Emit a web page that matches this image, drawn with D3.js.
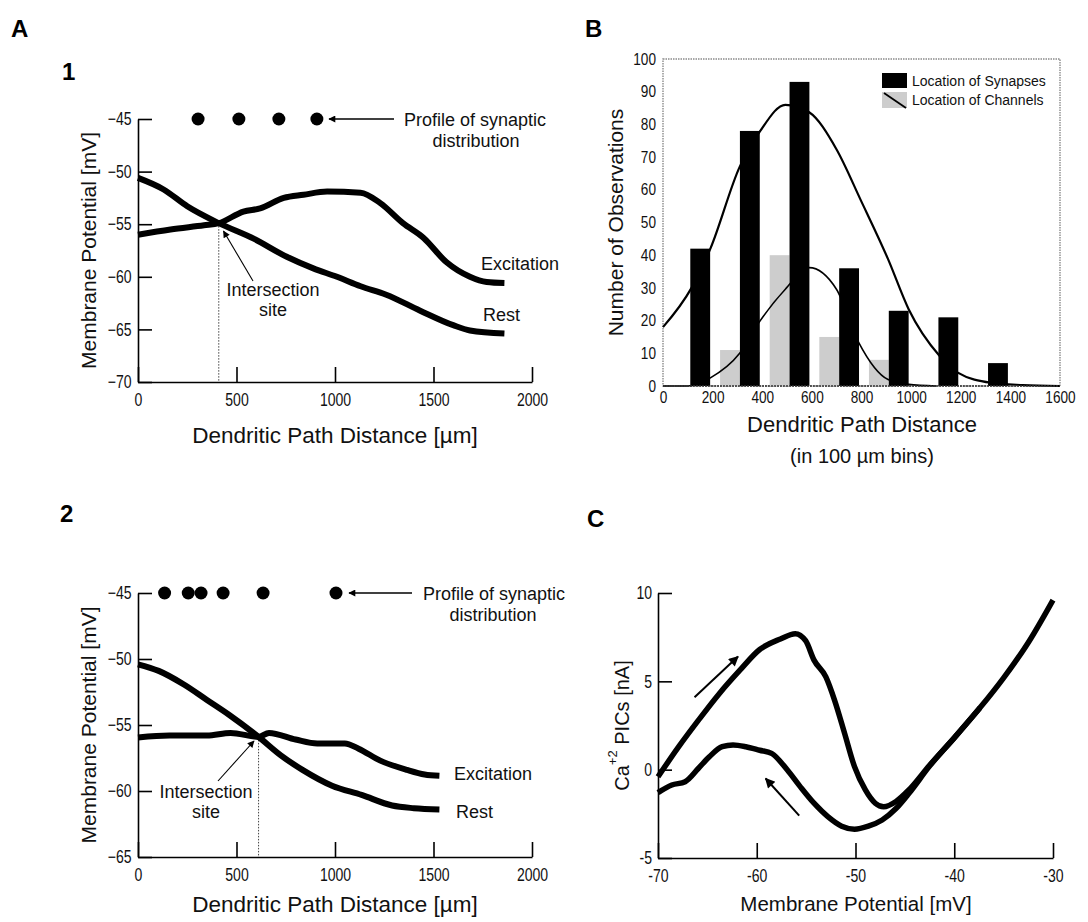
<!DOCTYPE html>
<html>
<head>
<meta charset="utf-8">
<script src="https://cdn.jsdelivr.net/npm/d3@7"></script>
<style>
  body { margin: 0; background: #fff; }
  svg { display: block; }
</style>
</head>
<body>
<svg id="fig" width="1088" height="922"></svg>
<script>
// ---------- Data ----------
// Panel A1: membrane potential along the dendrite [distance µm, mV]
const a1Rest = [[0,-50.6],[130,-51.7],[250,-53.3],[410,-54.9],[590,-56.4],[755,-58.1],[890,-59.2],[1010,-60.0],[1130,-60.9],[1260,-61.7],[1430,-63.2],[1600,-64.6],[1685,-65.1],[1860,-65.4]];
const a1Excitation = [[0,-56.0],[165,-55.5],[335,-55.1],[410,-54.9],[535,-53.8],[620,-53.5],[740,-52.5],[840,-52.2],[960,-51.9],[1130,-52.0],[1230,-53.0],[1345,-54.9],[1450,-56.3],[1565,-58.6],[1685,-60.0],[1770,-60.5],[1860,-60.6]];
const a1Synapses = [305, 512, 715, 908];
const a1Intersection = [410, -54.9];

// Panel A2
const a2Rest = [[0,-50.4],[105,-50.9],[235,-51.95],[350,-53.1],[460,-54.2],[612,-55.9],[725,-57.3],[835,-58.4],[985,-59.6],[1135,-60.3],[1290,-61.1],[1400,-61.3],[1530,-61.4]];
const a2Excitation = [[0,-55.95],[160,-55.8],[350,-55.8],[470,-55.6],[612,-55.9],[665,-55.6],[800,-56.1],[910,-56.4],[1050,-56.4],[1120,-56.8],[1230,-57.7],[1365,-58.4],[1455,-58.75],[1530,-58.85]];
const a2Synapses = [135, 255, 320, 432, 635, 1005];
const a2Intersection = [612, -55.9];

const aDistanceTicks = [0, 500, 1000, 1500, 2000];
const a1PotentialTicks = [-70, -65, -60, -55, -50, -45];
const a2PotentialTicks = [-65, -60, -55, -50, -45];

// Panel B: histogram of observations in 100 µm bins
const bSynapseBins = [150, 350, 550, 750, 950, 1150, 1350];
const bSynapseCounts = [42, 78, 93, 36, 23, 21, 7];
const bChannelBins = [270, 470, 670, 870];
const bChannelCounts = [11, 40, 15, 8];
const bBinWidth = 80;
const bSynapseFit = [[0,18],[115,30],[191,42],[309,67],[392,78],[493,86],[589,83.7],[699,72.4],[796,57],[907,38.8],[990,23.5],[1115,9.2],[1188,4.1],[1322,1],[1450,0.3],[1600,0]];
const bChannelFit = [[0,0],[100,0],[191,2.5],[309,10],[392,20],[493,29.6],[589,36.2],[699,29.6],[789,13.3],[907,2],[990,0.5],[1100,0]];
const bDistanceTicks = [0, 200, 400, 600, 800, 1000, 1200, 1400, 1600];
const bCountTicks = [0, 10, 20, 30, 40, 50, 60, 70, 80, 90, 100];
const bLegend = ["Location of Synapses", "Location of Channels"];

// Panel C: Ca2+ persistent inward currents vs membrane potential [mV, nA]
const cUpSweep = [[-70,-0.4],[-67.9,1.3],[-65.9,2.8],[-63.8,4.3],[-61.75,5.6],[-59.7,6.8],[-57.6,7.4],[-56.1,7.7],[-55.05,7.3],[-54.2,6.2],[-53.0,5.25],[-52.1,3.9],[-51.1,2.05],[-50.1,0.17],[-49.0,-1.15],[-48.0,-1.9],[-47.15,-2.1],[-45.9,-1.8],[-44.6,-1.15],[-42.5,0.25],[-40,1.8],[-37.4,3.5],[-35,5.2],[-32.5,7.2],[-30,9.6]];
const cDownSweep = [[-70,-1.3],[-68.6,-0.87],[-67.25,-0.68],[-65.9,0.08],[-64.8,0.73],[-63.5,1.3],[-62.4,1.4],[-61.1,1.3],[-59.7,1.1],[-58.5,0.92],[-56.9,-0.02],[-55.6,-0.96],[-54.2,-1.9],[-52.8,-2.66],[-51.4,-3.2],[-50.1,-3.37],[-48.7,-3.2],[-47.3,-2.85],[-45.9,-2.2],[-44.6,-1.35],[-42.5,0.2],[-40,1.8],[-37.4,3.5]];
const cSweepArrows = [[[-66.3,4.1],[-61.9,6.4]], [[-55.7,-2.6],[-59.1,-0.5]]];
const cPotentialTicks = [-70, -60, -50, -40, -30];
const cCurrentTicks = [-5, 0, 5, 10];

// ---------- Drawing ----------
const FONT = '"Liberation Sans", Arial, Helvetica, sans-serif';
const INK = "#111";
const svg = d3.select("#fig").attr("font-family", FONT);
svg.append("rect").attr("width", 1088).attr("height", 922).attr("fill", "#fff");

const defs = svg.append("defs");
function arrowMarker(id, w, h) {
  defs.append("marker").attr("id", id)
    .attr("viewBox", "0 0 10 10").attr("refX", 9).attr("refY", 5)
    .attr("markerUnits", "userSpaceOnUse")
    .attr("markerWidth", w).attr("markerHeight", h)
    .attr("orient", "auto")
    .append("path").attr("d", "M0,0L10,5L0,10z").attr("fill", "#000");
}
arrowMarker("headSmall", 9, 7);
arrowMarker("headLarge", 13, 10);

// narrow the tick numerals horizontally
function squeeze(sel, f) {
  sel.each(function () {
    const w = this.getComputedTextLength();
    this.setAttribute("textLength", w * f);
    this.setAttribute("lengthAdjust", "spacingAndGlyphs");
  });
}

function text(g, x, y, str, size, anchor) {
  return g.append("text").attr("x", x).attr("y", y).attr("font-size", size)
    .attr("text-anchor", anchor || "start").attr("fill", INK).text(str);
}

function styleAxis(ax, size, squeezeF) {
  ax.attr("font-family", FONT);
  ax.selectAll(".domain").attr("stroke", "#000").attr("stroke-width", 1.6);
  ax.selectAll(".tick line").attr("stroke", "#000").attr("stroke-width", 1.6);
  ax.selectAll(".tick text").attr("font-size", size).attr("fill", INK);
  if (squeezeF) squeeze(ax.selectAll(".tick text"), squeezeF);
}

const minusFmt = d3.format("d");

// Panels A1 / A2
function panelA(cfg) {
  const g = svg.append("g");
  const x = d3.scaleLinear([0, 2000], [138, 532]);
  const y = d3.scaleLinear(cfg.yDomain, cfg.yRange);

  const ax = g.append("g").attr("transform", `translate(0,${cfg.yRange[0]})`)
    .call(d3.axisBottom(x).tickValues(aDistanceTicks).tickSize(-15).tickSizeOuter(0).tickPadding(11).tickFormat(minusFmt));
  styleAxis(ax, 18, 0.78);
  const ay = g.append("g").attr("transform", `translate(${x(0)},0)`)
    .call(d3.axisLeft(y).tickValues(cfg.yTicks).tickSize(-14).tickSizeOuter(0).tickPadding(6.5).tickFormat(minusFmt));
  styleAxis(ay, 18, 0.78);

  // dotted drop line from the intersection
  g.append("line")
    .attr("x1", x(cfg.inter[0])).attr("x2", x(cfg.inter[0]))
    .attr("y1", y(cfg.inter[1])).attr("y2", cfg.yRange[0])
    .attr("stroke", "#444").attr("stroke-width", 1).attr("stroke-dasharray", "1.5,1.5");

  const line = d3.line().x(d => x(d[0])).y(d => y(d[1])).curve(d3.curveMonotoneX);
  [cfg.rest, cfg.exc].forEach(s => g.append("path").attr("d", line(s))
    .attr("fill", "none").attr("stroke", "#000").attr("stroke-width", 6)
    .attr("stroke-linejoin", "round"));

  g.selectAll("circle.syn").data(cfg.dots).join("circle")
    .attr("cx", d => x(d)).attr("cy", y(-45)).attr("r", 6.5).attr("fill", "#000");

  // arrow to the synapse profile
  g.append("line")
    .attr("x1", cfg.profileArrow[0]).attr("x2", cfg.profileArrow[1])
    .attr("y1", y(-45)).attr("y2", y(-45))
    .attr("stroke", "#000").attr("stroke-width", 1.3).attr("marker-end", "url(#headSmall)");
  text(g, cfg.profileText[0], cfg.profileText[1], "Profile of synaptic", 18, "start");
  text(g, cfg.profileText[2], cfg.profileText[1] + 21, "distribution", 18, "middle");

  // intersection annotation
  g.append("line")
    .attr("x1", cfg.interArrow[0]).attr("y1", cfg.interArrow[1])
    .attr("x2", cfg.interArrow[2]).attr("y2", cfg.interArrow[3])
    .attr("stroke", "#000").attr("stroke-width", 1.1).attr("marker-end", "url(#headSmall)");
  text(g, cfg.interText[0], cfg.interText[1], "Intersection", 18, "middle");
  text(g, cfg.interText[0], cfg.interText[1] + 20, "site", 18, "middle");

  text(g, cfg.excText[0], cfg.excText[1], "Excitation", 18, "start");
  text(g, cfg.restText[0], cfg.restText[1], "Rest", 18, "start");

  const midY = (cfg.yRange[0] + cfg.yRange[1]) / 2;
  text(g, 0, 0, "Membrane Potential [mV]", 21, "middle")
    .attr("transform", `translate(96,${midY}) rotate(-90)`);
  text(g, 335, cfg.xTitleY, "Dendritic Path Distance [µm]", 22.5, "middle");
}

panelA({
  yDomain: [-70, -45], yRange: [382, 119], yTicks: a1PotentialTicks,
  rest: a1Rest, exc: a1Excitation, dots: a1Synapses, inter: a1Intersection,
  profileArrow: [394, 329], profileText: [404, 126, 476],
  interArrow: [253, 281, 223.5, 231], interText: [273, 296],
  excText: [481, 270], restText: [483, 321], xTitleY: 443
});

panelA({
  yDomain: [-65, -45], yRange: [857, 593], yTicks: a2PotentialTicks,
  rest: a2Rest, exc: a2Excitation, dots: a2Synapses, inter: a2Intersection,
  profileArrow: [412, 349], profileText: [423, 600, 493],
  interArrow: [218, 781, 254, 741], interText: [206, 798],
  excText: [454, 780], restText: [456, 818], xTitleY: 912
});

// Panel B
(function () {
  const g = svg.append("g");
  const x = d3.scaleLinear([0, 1600], [663, 1060]);
  const y = d3.scaleLinear([0, 100], [386, 59]);

  g.append("rect").attr("x", x(0)).attr("y", y(100))
    .attr("width", x(1600) - x(0)).attr("height", y(0) - y(100))
    .attr("fill", "none").attr("stroke", "#8a8a8a").attr("stroke-width", 1.4)
    .attr("stroke-dasharray", "1.5,1");

  g.selectAll("rect.chan").data(bChannelBins).join("rect")
    .attr("x", d => x(d - bBinWidth / 2)).attr("width", d => x(bBinWidth) - x(0))
    .attr("y", (d, i) => y(bChannelCounts[i])).attr("height", (d, i) => y(0) - y(bChannelCounts[i]))
    .attr("fill", "#cdcdcd");
  g.selectAll("rect.syn").data(bSynapseBins).join("rect")
    .attr("x", d => x(d - bBinWidth / 2)).attr("width", d => x(bBinWidth) - x(0))
    .attr("y", (d, i) => y(bSynapseCounts[i])).attr("height", (d, i) => y(0) - y(bSynapseCounts[i]))
    .attr("fill", "#000");

  const line = d3.line().x(d => x(d[0])).y(d => y(d[1])).curve(d3.curveMonotoneX);
  g.append("path").attr("d", line(bSynapseFit)).attr("fill", "none").attr("stroke", "#000").attr("stroke-width", 2.2);
  g.append("path").attr("d", line(bChannelFit)).attr("fill", "none").attr("stroke", "#000").attr("stroke-width", 1.6);

  g.append("line").attr("x1", x(0)).attr("x2", x(1600)).attr("y1", y(0)).attr("y2", y(0))
    .attr("stroke", "#333").attr("stroke-width", 1.6).attr("stroke-dasharray", "2,1");

  const ax = g.append("g").attr("transform", `translate(0,${y(0)})`)
    .call(d3.axisBottom(x).tickValues(bDistanceTicks).tickSize(0).tickPadding(6).tickFormat(d3.format("d")));
  styleAxis(ax, 16, 0.85);
  ax.select(".domain").remove();
  const ay = g.append("g").attr("transform", `translate(${x(0)},0)`)
    .call(d3.axisLeft(y).tickValues(bCountTicks).tickSize(0).tickPadding(7).tickFormat(d3.format("d")));
  styleAxis(ay, 16, 0.85);
  ay.select(".domain").remove();

  // legend
  g.append("rect").attr("x", 882).attr("y", 73).attr("width", 25).attr("height", 15).attr("fill", "#000");
  g.append("rect").attr("x", 882).attr("y", 92).attr("width", 25).attr("height", 16).attr("fill", "#cdcdcd");
  g.append("line").attr("x1", 884).attr("y1", 93).attr("x2", 906).attr("y2", 108).attr("stroke", "#000").attr("stroke-width", 1.8);
  bLegend.forEach((s, i) => text(g, 912, 86 + i * 19, s, 14, "start"));

  text(g, 0, 0, "Number of Observations", 21, "middle")
    .attr("transform", `translate(623,${(y(0) + y(100)) / 2}) rotate(-90)`);
  text(g, 862, 432, "Dendritic Path Distance", 22, "middle");
  text(g, 862, 463, "(in 100 µm bins)", 20, "middle");
})();

// Panel C
(function () {
  const g = svg.append("g");
  const x = d3.scaleLinear([-70, -30], [658, 1053]);
  const y = d3.scaleLinear([-5, 10], [858, 593]);
  const hyphen = d => String(d);

  const ax = g.append("g").attr("transform", `translate(0,${y(-5)})`)
    .call(d3.axisBottom(x).tickValues(cPotentialTicks).tickSize(-15).tickSizeOuter(0).tickPadding(11).tickFormat(hyphen));
  styleAxis(ax, 18, 0.78);
  const ay = g.append("g").attr("transform", `translate(${x(-70)},0)`)
    .call(d3.axisLeft(y).tickValues(cCurrentTicks).tickSize(-14).tickSizeOuter(0).tickPadding(6).tickFormat(hyphen));
  styleAxis(ay, 18, 0.78);

  const line = d3.line().x(d => x(d[0])).y(d => y(d[1])).curve(d3.curveMonotoneX);
  [cDownSweep, cUpSweep].forEach(s => g.append("path").attr("d", line(s))
    .attr("fill", "none").attr("stroke", "#000").attr("stroke-width", 5.5).attr("stroke-linejoin", "round"));

  cSweepArrows.forEach(a => g.append("line")
    .attr("x1", x(a[0][0])).attr("y1", y(a[0][1]))
    .attr("x2", x(a[1][0])).attr("y2", y(a[1][1]))
    .attr("stroke", "#000").attr("stroke-width", 2).attr("marker-end", "url(#headLarge)"));

  const yt = text(g, 0, 0, "", 20, "middle").attr("transform", `translate(629,${(y(-5) + y(10)) / 2}) rotate(-90)`);
  yt.append("tspan").text("Ca");
  yt.append("tspan").attr("dy", -12).attr("font-size", 13).text("+2");
  yt.append("tspan").attr("dy", 12).text(" PICs [nA]");
  text(g, 856, 911, "Membrane Potential [mV]", 20.5, "middle");
})();

// panel letters
[["A", 11, 37], ["B", 585, 37], ["C", 587, 527], ["1", 62, 80], ["2", 60, 522]].forEach(p =>
  text(svg, p[1], p[2], p[0], 24, "start").attr("font-weight", "bold").attr("fill", "#000"));
</script>
</body>
</html>
